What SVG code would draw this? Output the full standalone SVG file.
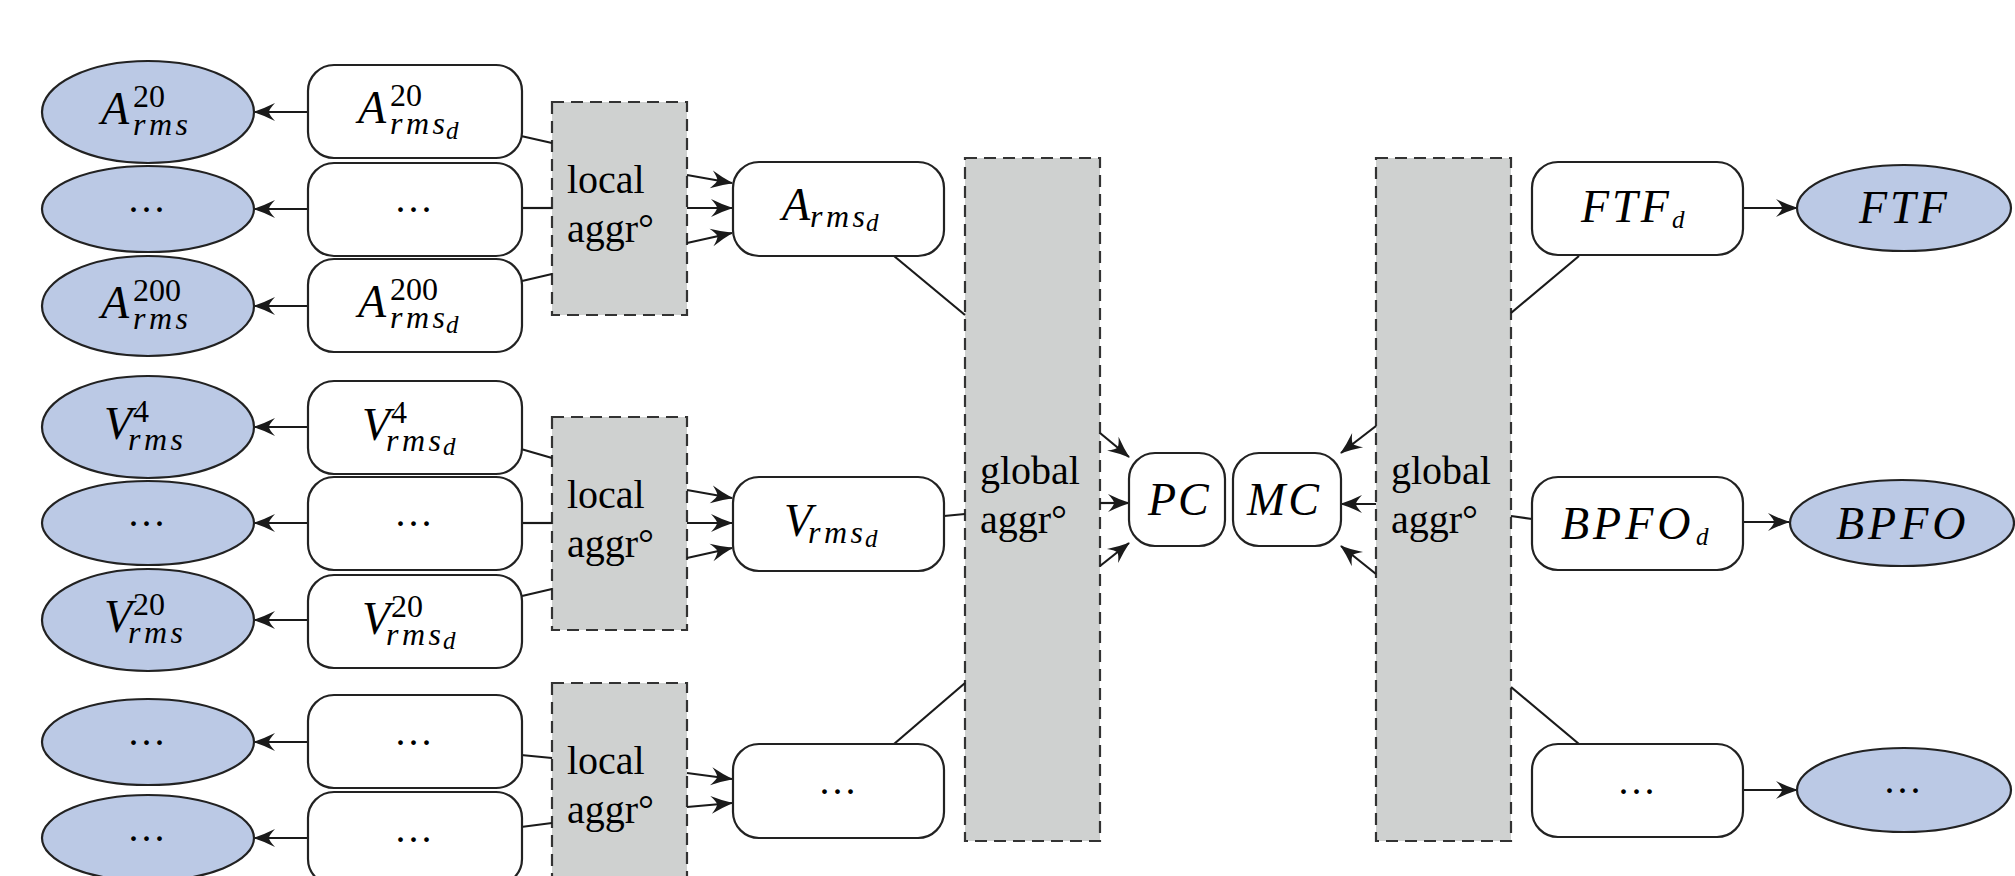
<svg xmlns="http://www.w3.org/2000/svg" width="2015" height="876" viewBox="0 0 2015 876">
  <style>
    .obs { fill: #bbc9e5; stroke: #222; stroke-width: 2.2; }
    .box { fill: #fff; stroke: #222; stroke-width: 2.2; }
    .agg { fill: #cfd1d0; stroke: #333; stroke-width: 2.2; stroke-dasharray: 12 7; }
    .ln { fill: none; stroke: #1a1a1a; stroke-width: 2.2; }
    .arr { fill: none; stroke: #1a1a1a; stroke-width: 2.2; marker-end: url(#ah); }
    text { font-family: "Liberation Serif", "Times New Roman", serif; fill: #000; }
    .mi { font-style: italic; font-size: 46px; }
    .sp { font-style: normal; font-size: 32px; letter-spacing: 0; }
    .sb { font-style: italic; font-size: 32px; letter-spacing: 3.5px; }
    .ssb { font-style: italic; font-size: 25px; letter-spacing: 0; }
    .lbl { font-size: 40px; }
    .dots { font-size: 40px; letter-spacing: 3px; text-anchor: middle; }
  </style>
  <defs>
    <marker id="ah" viewBox="-24 -11 26 22" refX="0" refY="0" markerWidth="26" markerHeight="22" markerUnits="userSpaceOnUse" orient="auto">
      <path d="M1,0 Q-10,-3.5 -21,-9 Q-15,-2.5 -15,0 Q-15,2.5 -21,9 Q-10,3.5 1,0 Z" fill="#1a1a1a"/>
    </marker>
  </defs>

  <rect width="2015" height="876" fill="#fff"/>

  <!-- aggregation blocks -->
  <g id="local-aggr-a">
    <rect class="agg" x="552" y="102" width="135" height="213"/>
    <text class="lbl" x="567" y="193">local</text>
    <text class="lbl" x="567" y="242">aggr°</text>
  </g>
  <g id="local-aggr-v">
    <rect class="agg" x="552" y="417" width="135" height="213"/>
    <text class="lbl" x="567" y="508">local</text>
    <text class="lbl" x="567" y="557">aggr°</text>
  </g>
  <g id="local-aggr-x">
    <rect class="agg" x="552" y="683" width="135" height="213"/>
    <text class="lbl" x="567" y="774">local</text>
    <text class="lbl" x="567" y="823">aggr°</text>
  </g>
  <g id="global-aggr-left">
    <rect class="agg" x="965" y="158" width="135" height="683"/>
    <text class="lbl" x="980" y="484">global</text>
    <text class="lbl" x="980" y="533">aggr°</text>
  </g>
  <g id="global-aggr-right">
    <rect class="agg" x="1376" y="158" width="135" height="683"/>
    <text class="lbl" x="1391" y="484">global</text>
    <text class="lbl" x="1391" y="533">aggr°</text>
  </g>

  <!-- connectors -->
  <g id="connectors">
    <!-- detector nodes to observed values -->
    <line class="arr" x1="308" y1="112" x2="254" y2="112"/>
    <line class="arr" x1="308" y1="209" x2="254" y2="209"/>
    <line class="arr" x1="308" y1="306" x2="254" y2="306"/>
    <line class="arr" x1="308" y1="427" x2="254" y2="427"/>
    <line class="arr" x1="308" y1="523" x2="254" y2="523"/>
    <line class="arr" x1="308" y1="620" x2="254" y2="620"/>
    <line class="arr" x1="308" y1="742" x2="254" y2="742"/>
    <line class="arr" x1="308" y1="838" x2="254" y2="838"/>
    <!-- detector nodes into local aggregation -->
    <line class="ln" x1="521" y1="136" x2="552" y2="143"/>
    <line class="ln" x1="522" y1="208" x2="552" y2="208"/>
    <line class="ln" x1="522" y1="281" x2="552" y2="274"/>
    <line class="ln" x1="521" y1="449" x2="552" y2="458"/>
    <line class="ln" x1="522" y1="523" x2="552" y2="523"/>
    <line class="ln" x1="522" y1="596" x2="552" y2="589"/>
    <line class="ln" x1="521" y1="755" x2="552" y2="758"/>
    <line class="ln" x1="521" y1="827" x2="552" y2="823"/>
    <!-- local aggregation into group nodes -->
    <line class="arr" x1="687" y1="175" x2="732" y2="183"/>
    <line class="arr" x1="687" y1="208" x2="732" y2="208"/>
    <line class="arr" x1="687" y1="243" x2="732" y2="233"/>
    <line class="arr" x1="687" y1="490" x2="732" y2="498"/>
    <line class="arr" x1="687" y1="523" x2="732" y2="523"/>
    <line class="arr" x1="687" y1="558" x2="732" y2="548"/>
    <line class="arr" x1="687" y1="773" x2="732" y2="779"/>
    <line class="arr" x1="687" y1="807" x2="732" y2="803"/>
    <!-- group nodes into global aggregation -->
    <line class="ln" x1="894" y1="256" x2="965" y2="315"/>
    <line class="ln" x1="944" y1="516" x2="965" y2="514"/>
    <line class="ln" x1="894" y1="744" x2="965" y2="683"/>
    <!-- global aggregation into PC -->
    <line class="arr" x1="1100" y1="433" x2="1129" y2="457"/>
    <line class="arr" x1="1100" y1="503" x2="1129" y2="503"/>
    <line class="arr" x1="1100" y1="566" x2="1129" y2="543"/>
    <!-- global aggregation into MC -->
    <line class="arr" x1="1376" y1="426" x2="1341" y2="453"/>
    <line class="arr" x1="1376" y1="504" x2="1341" y2="504"/>
    <line class="arr" x1="1376" y1="574" x2="1341" y2="546"/>
    <!-- global aggregation to fault frequency nodes -->
    <line class="ln" x1="1511" y1="313" x2="1579" y2="256"/>
    <line class="ln" x1="1511" y1="516" x2="1532" y2="519"/>
    <line class="ln" x1="1511" y1="687" x2="1579" y2="744"/>
    <!-- fault frequency nodes to observed values -->
    <line class="arr" x1="1743" y1="208" x2="1797" y2="208"/>
    <line class="arr" x1="1743" y1="522" x2="1789" y2="522"/>
    <line class="arr" x1="1743" y1="790" x2="1797" y2="790"/>
  </g>

  <!-- observed acceleration / velocity values -->
  <g id="obs-a20">
    <ellipse class="obs" cx="148" cy="112" rx="106" ry="51"/>
    <text class="mi" x="101" y="124">A<tspan class="sp" x="133" y="107">20</tspan><tspan class="sb" x="133" y="135">rms</tspan></text>
  </g>
  <g id="obs-a-dots">
    <ellipse class="obs" cx="148" cy="209" rx="106" ry="43"/>
    <text class="dots" x="148" y="212">...</text>
  </g>
  <g id="obs-a200">
    <ellipse class="obs" cx="148" cy="306" rx="106" ry="50"/>
    <text class="mi" x="101" y="318">A<tspan class="sp" x="133" y="301">200</tspan><tspan class="sb" x="133" y="329">rms</tspan></text>
  </g>
  <g id="obs-v4">
    <ellipse class="obs" cx="148" cy="427" rx="106" ry="51"/>
    <text class="mi" x="104" y="439">V<tspan class="sp" x="133" y="422">4</tspan><tspan class="sb" x="128" y="450">rms</tspan></text>
  </g>
  <g id="obs-v-dots">
    <ellipse class="obs" cx="148" cy="523" rx="106" ry="42"/>
    <text class="dots" x="148" y="526">...</text>
  </g>
  <g id="obs-v20">
    <ellipse class="obs" cx="148" cy="620" rx="106" ry="51"/>
    <text class="mi" x="104" y="632">V<tspan class="sp" x="133" y="615">20</tspan><tspan class="sb" x="128" y="643">rms</tspan></text>
  </g>
  <g id="obs-x-dots-1">
    <ellipse class="obs" cx="148" cy="742" rx="106" ry="43"/>
    <text class="dots" x="148" y="745">...</text>
  </g>
  <g id="obs-x-dots-2">
    <ellipse class="obs" cx="148" cy="838" rx="106" ry="43"/>
    <text class="dots" x="148" y="841">...</text>
  </g>

  <!-- per-sensor detector nodes -->
  <g id="det-a20">
    <rect class="box" x="308" y="65" width="214" height="93" rx="26"/>
    <text class="mi" x="358" y="123">A<tspan class="sp" x="390" y="106">20</tspan><tspan class="sb" x="390" y="134">rms</tspan><tspan class="ssb" x="446" y="139">d</tspan></text>
  </g>
  <g id="det-a-dots">
    <rect class="box" x="308" y="163" width="214" height="93" rx="26"/>
    <text class="dots" x="415" y="212">...</text>
  </g>
  <g id="det-a200">
    <rect class="box" x="308" y="259" width="214" height="93" rx="26"/>
    <text class="mi" x="358" y="317">A<tspan class="sp" x="390" y="300">200</tspan><tspan class="sb" x="390" y="328">rms</tspan><tspan class="ssb" x="446" y="333">d</tspan></text>
  </g>
  <g id="det-v4">
    <rect class="box" x="308" y="381" width="214" height="93" rx="26"/>
    <text class="mi" x="362" y="440">V<tspan class="sp" x="391" y="423">4</tspan><tspan class="sb" x="386" y="451">rms</tspan><tspan class="ssb" x="443" y="455">d</tspan></text>
  </g>
  <g id="det-v-dots">
    <rect class="box" x="308" y="477" width="214" height="93" rx="26"/>
    <text class="dots" x="415" y="526">...</text>
  </g>
  <g id="det-v20">
    <rect class="box" x="308" y="575" width="214" height="93" rx="26"/>
    <text class="mi" x="362" y="634">V<tspan class="sp" x="391" y="617">20</tspan><tspan class="sb" x="386" y="645">rms</tspan><tspan class="ssb" x="443" y="649">d</tspan></text>
  </g>
  <g id="det-x-dots-1">
    <rect class="box" x="308" y="695" width="214" height="93" rx="26"/>
    <text class="dots" x="415" y="745">...</text>
  </g>
  <g id="det-x-dots-2">
    <rect class="box" x="308" y="792" width="214" height="93" rx="26"/>
    <text class="dots" x="415" y="842">...</text>
  </g>

  <!-- grouped detector nodes -->
  <g id="grp-a">
    <rect class="box" x="733" y="162" width="211" height="94" rx="26"/>
    <text class="mi" x="782" y="220">A<tspan class="sb" x="810" y="227">rms</tspan><tspan class="ssb" x="866" y="231">d</tspan></text>
  </g>
  <g id="grp-v">
    <rect class="box" x="733" y="477" width="211" height="94" rx="26"/>
    <text class="mi" x="784" y="536">V<tspan class="sb" x="808" y="543">rms</tspan><tspan class="ssb" x="865" y="547">d</tspan></text>
  </g>
  <g id="grp-x">
    <rect class="box" x="733" y="744" width="211" height="94" rx="26"/>
    <text class="dots" x="839" y="794">...</text>
  </g>

  <!-- condition nodes -->
  <g id="pc">
    <rect class="box" x="1129" y="453" width="96" height="93" rx="26"/>
    <text class="mi" x="1148" y="515" letter-spacing="2">PC</text>
  </g>
  <g id="mc">
    <rect class="box" x="1233" y="453" width="108" height="93" rx="26"/>
    <text class="mi" x="1247" y="515" letter-spacing="3">MC</text>
  </g>

  <!-- fault frequency detector nodes -->
  <g id="det-ftf">
    <rect class="box" x="1532" y="162" width="211" height="93" rx="26"/>
    <text class="mi" x="1581" y="222" letter-spacing="3">FTF<tspan class="ssb" x="1672" y="228">d</tspan></text>
  </g>
  <g id="det-bpfo">
    <rect class="box" x="1532" y="477" width="211" height="93" rx="26"/>
    <text class="mi" x="1561" y="539" letter-spacing="4">BPFO<tspan class="ssb" x="1696" y="545">d</tspan></text>
  </g>
  <g id="det-f-dots">
    <rect class="box" x="1532" y="744" width="211" height="93" rx="26"/>
    <text class="dots" x="1638" y="794">...</text>
  </g>

  <!-- observed fault frequencies -->
  <g id="obs-ftf">
    <ellipse class="obs" cx="1904" cy="208" rx="107" ry="43"/>
    <text class="mi" x="1859" y="223" letter-spacing="3">FTF</text>
  </g>
  <g id="obs-bpfo">
    <ellipse class="obs" cx="1902" cy="523" rx="112" ry="43"/>
    <text class="mi" x="1836" y="539" letter-spacing="4">BPFO</text>
  </g>
  <g id="obs-f-dots">
    <ellipse class="obs" cx="1904" cy="790" rx="107" ry="42"/>
    <text class="dots" x="1904" y="793">...</text>
  </g>
</svg>
